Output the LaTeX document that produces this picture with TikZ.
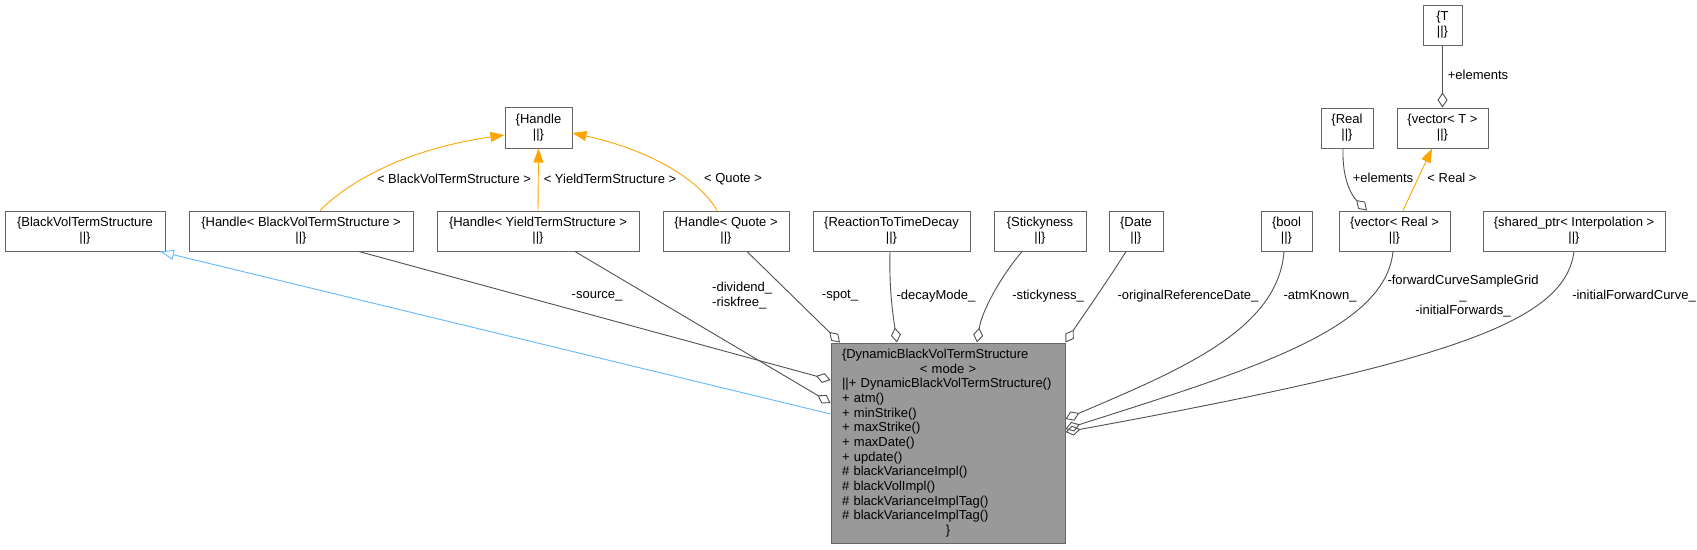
\documentclass[tikz,border=0pt]{standalone}
\usepackage{fontspec}
\setmainfont{Liberation Sans}
\usetikzlibrary{arrows.meta}
\definecolor{edgegray}{HTML}{505050}
\definecolor{boxgray}{HTML}{666666}
\definecolor{mainfill}{HTML}{999999}
\definecolor{tmplorange}{HTML}{FFA500}
\definecolor{inhblue}{HTML}{63B8FF}
\begin{document}
\begin{tikzpicture}[x=1pt,y=-1pt, font=\fontsize{13}{15}\selectfont,
  cls/.style={draw=boxgray, line width=1pt, fill=white, inner sep=0pt, align=center, minimum height=40pt},
  lbl/.style={inner sep=0pt, align=center},
  comp/.style={draw=edgegray, line width=0.9pt, -{Diamond[open,length=15pt,width=10pt]}},
  tmpl/.style={draw=tmplorange, line width=0.9pt, -{Triangle[length=14pt,width=10pt]}},
  inh/.style={draw=inhblue, line width=0.9pt, -{Triangle[open,length=14pt,width=10pt]}}]
\useasboundingbox[fill=white] (0,0) rectangle (1697,549);

% class boxes
\node[cls, minimum width=160pt] (bvts) at (85,231) {\{BlackVolTermStructure\\||\}};
\node[cls, minimum width=224pt] (hbv) at (301,231) {\{Handle< BlackVolTermStructure >\\||\}};
\node[cls, minimum width=202pt] (hyts) at (538,231) {\{Handle< YieldTermStructure >\\||\}};
\node[cls, minimum width=126pt] (hq) at (726,231) {\{Handle< Quote >\\||\}};
\node[cls, minimum width=157pt] (rttd) at (891.5,231) {\{ReactionToTimeDecay\\||\}};
\node[cls, minimum width=92pt] (stk) at (1040,231) {\{Stickyness\\||\}};
\node[cls, minimum width=54pt] (date) at (1136,231) {\{Date\\||\}};
\node[cls, minimum width=51pt] (bool) at (1286.5,231) {\{bool\\||\}};
\node[cls, minimum width=111pt] (vreal) at (1394.5,231) {\{vector< Real >\\||\}};
\node[cls, minimum width=182pt] (sptr) at (1574,231) {\{shared\_ptr< Interpolation >\\||\}};
\node[cls, minimum width=67pt, minimum height=41pt] (handle) at (538.5,127.5) {\{Handle\\||\}};
\node[cls, minimum width=52pt] (real) at (1347,128) {\{Real\\||\}};
\node[cls, minimum width=91pt] (vecT) at (1442.5,128) {\{vector< T >\\||\}};
\node[cls, minimum width=39pt] (T) at (1442.5,25) {\{T\\||\}};

\node[cls, fill=mainfill, minimum width=234pt, minimum height=200pt, text width=212pt, align=left,
      font=\fontsize{13}{14.67}\selectfont] (main) at (948,443)
  {\{DynamicBlackVolTermStructure\\\makebox[212pt]{< mode >}\\||+ DynamicBlackVolTermStructure()\\+ atm()\\+ minStrike()\\+ maxStrike()\\+ maxDate()\\+ update()\\\# blackVarianceImpl()\\\# blackVolImpl()\\\# blackVarianceImplTag()\\\# blackVarianceImplTag()\\\makebox[212pt]{\}}};

% inheritance
\draw[inh] ([yshift=29pt]main.west) -- ([xshift=75pt]bvts.south);

% compositions into main
\draw[comp] ([xshift=58pt]hbv.south) -- ([yshift=63pt]main.west);
\draw[comp] ([xshift=37pt]hyts.south) -- ([yshift=40pt]main.west);
\draw[comp] ([xshift=21pt]hq.south) -- ([xshift=-108pt]main.north);
\draw[comp] ([xshift=-1.5pt]rttd.south) .. controls (889,290) and (893,315) .. ([xshift=-51pt]main.north);
\draw[comp] ([xshift=-18pt]stk.south) .. controls (1002,275) and (982,310) .. ([xshift=29pt]main.north);
\draw[comp] ([xshift=-10pt]date.south) .. controls (1105,285) and (1080,320) .. (main.north east);
\draw[comp] ([xshift=-2.5pt]bool.south) .. controls (1278,330) and (1180,370) .. ([yshift=24pt]main.east);
\draw[comp] ([xshift=-1.5pt]vreal.south) .. controls (1385,330) and (1250,370) .. ([yshift=14pt]main.east);
\draw[comp] (sptr.south) .. controls (1565,320) and (1460,360) .. ([yshift=11pt]main.east);

% template instances
\draw[tmpl] ([xshift=19pt]hbv.north) .. controls (345,185) and (400,150) .. ([yshift=-7.5pt]handle.west);
\draw[tmpl] (hyts.north) -- (handle.south);
\draw[tmpl] ([xshift=-9pt]hq.north) .. controls (700,180) and (650,150) .. ([yshift=-5.5pt]handle.east);
\draw[tmpl] ([xshift=8.5pt]vreal.north) -- ([xshift=-10.5pt]vecT.south);

% vector compositions
\draw[comp] ([xshift=-4pt]real.south) .. controls (1342,180) and (1352,196) .. ([xshift=-27.5pt]vreal.north);
\draw[comp] (T.south) -- (vecT.north);

% edge labels
\node[lbl] (l1) at (454,179) {< BlackVolTermStructure >};
\node[lbl] (l2) at (610,179) {< YieldTermStructure >};
\node[lbl] (l3) at (733,179) {< Quote >};
\node[lbl] (l4) at (597,296) {-source\_};
\node[lbl, anchor=west, align=left] (l5) at (712,295.5) {-dividend\_\\-riskfree\_};
\node[lbl] (l6) at (840,296) {-spot\_};
\node[lbl] (l7) at (936,296) {-decayMode\_};
\node[lbl] (l8) at (1048,296) {-stickyness\_};
\node[lbl] (l9) at (1188,296) {-originalReferenceDate\_};
\node[lbl] (l10) at (1320,296) {-atmKnown\_};
\node[lbl] (l11) at (1463,296) {-forwardCurveSampleGrid\\\_\\-initialForwards\_};
\node[lbl] (l12) at (1634,296) {-initialForwardCurve\_};
\node[lbl] (l13) at (1478,75) {+elements};
\node[lbl] (l14) at (1383,178) {+elements};
\node[lbl] (l15) at (1452,178) {< Real >};
\end{tikzpicture}
\end{document}
